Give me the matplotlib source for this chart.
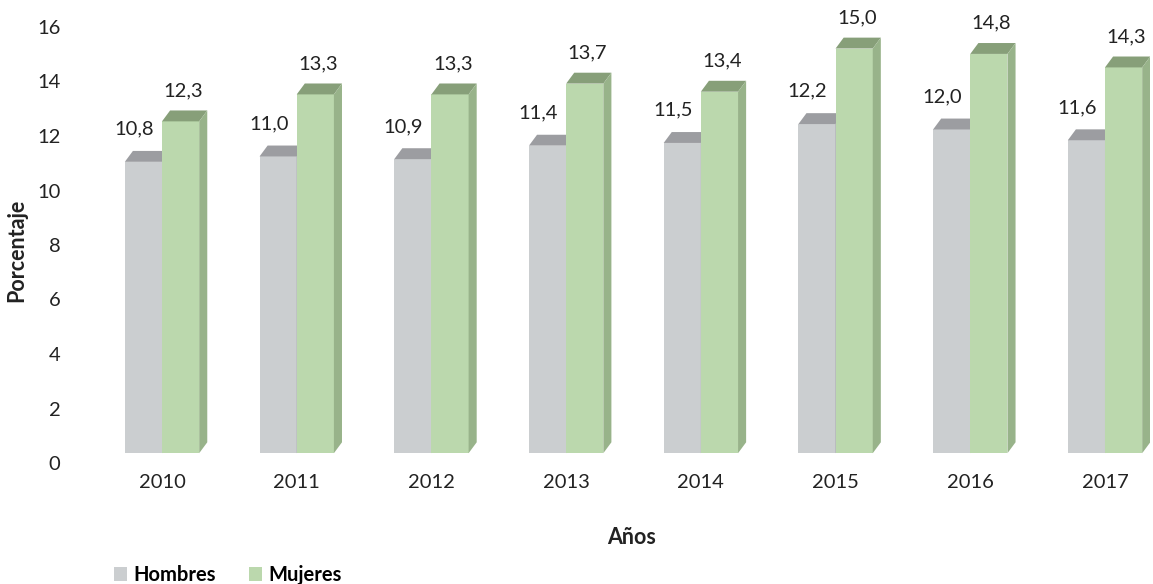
import numpy as np
import matplotlib.pyplot as plt
from matplotlib.patches import Polygon, Patch

plt.rcParams['font.family'] = ['Lato', 'DejaVu Sans']

years = ['2010', '2011', '2012', '2013', '2014', '2015', '2016', '2017']
hombres = [10.8, 11.0, 10.9, 11.4, 11.5, 12.2, 12.0, 11.6]
mujeres = [12.3, 13.3, 13.3, 13.7, 13.4, 15.0, 14.8, 14.3]
yticks = [0, 2, 4, 6, 8, 10, 12, 14, 16]

# colours: front, top, side
gray = ('#CBCED0', '#9C9DA1', '#A3A5A8')
green = ('#BBD8AD', '#879F79', '#98B38A')

W, H = 1153, 584
fig = plt.figure(figsize=(W / 100, H / 100), dpi=100)
ax = fig.add_axes([95 / W, (H - 463) / H, (1150 - 95) / W, (463 - 27) / H])

step = 134.7
ax.set_xlim(-(162 - 95) / step, 7 + (1150 - 1105) / step)
ax.set_ylim(0, 16)

bw = 0.276      # bar width
dx = 0.06       # depth offset, x
dy = 0.40       # depth offset, y
floor = 0.36    # front edge of the floor sits a little above zero
k = 0.99


def proj(v):
    return floor + v * k


def bar3d(x0, v, cols):
    front, top, side = cols
    b, t = floor, proj(v)
    x1 = x0 + bw
    ax.add_patch(Polygon([(x0, b), (x1, b), (x1, t), (x0, t)],
                         closed=True, fc=front, ec='none', zorder=2))
    ax.add_patch(Polygon([(x0, t), (x1, t), (x1 + dx, t + dy), (x0 + dx, t + dy)],
                         closed=True, fc=top, ec='none', zorder=2))
    ax.add_patch(Polygon([(x1, b), (x1 + dx, b + dy), (x1 + dx, t + dy), (x1, t)],
                         closed=True, fc=side, ec='none', zorder=2))


fs = 14.5
x = np.arange(len(years))
for i in x:
    bar3d(i - bw, hombres[i], gray)
    bar3d(i, mujeres[i], green)
    ax.text(i - bw / 2 - 0.07, hombres[i] + 1.45, f'{hombres[i]:.1f}'.replace('.', ','),
            ha='center', va='center', fontsize=fs, color='#222222')
    ax.text(i + bw / 2 + 0.02, mujeres[i] + 1.35, f'{mujeres[i]:.1f}'.replace('.', ','),
            ha='center', va='center', fontsize=fs, color='#222222')

ax.set_xticks(x)
ax.set_xticklabels(years, fontsize=fs, color='#222222')
ax.set_yticks(yticks)
ax.set_yticklabels([str(t) for t in yticks], fontsize=fs, color='#222222')
ax.tick_params(length=0)
ax.tick_params(axis='x', pad=8)
ax.tick_params(axis='y', pad=25)
for s in ax.spines.values():
    s.set_visible(False)

fig.text(17 / W, 1 - 250 / H, 'Porcentaje', rotation=90, ha='center', va='center',
         fontsize=15.5, fontweight='bold', color='#222222')
fig.text(632 / W, 1 - 537 / H, 'Años', ha='center', va='center',
         fontsize=15.5, fontweight='bold', color='#222222')

handles = [Patch(fc=gray[0], ec='none'), Patch(fc=green[0], ec='none')]
fig.legend(handles, ['Hombres', 'Mujeres'], loc='center left',
           bbox_to_anchor=(96 / W, 1 - 575 / H), ncol=2, frameon=False,
           handlelength=0.65, handleheight=0.65, handletextpad=0.3,
           columnspacing=1.65, prop={'weight': 'bold', 'size': 14.5})

fig.savefig('out.png', dpi=100)
